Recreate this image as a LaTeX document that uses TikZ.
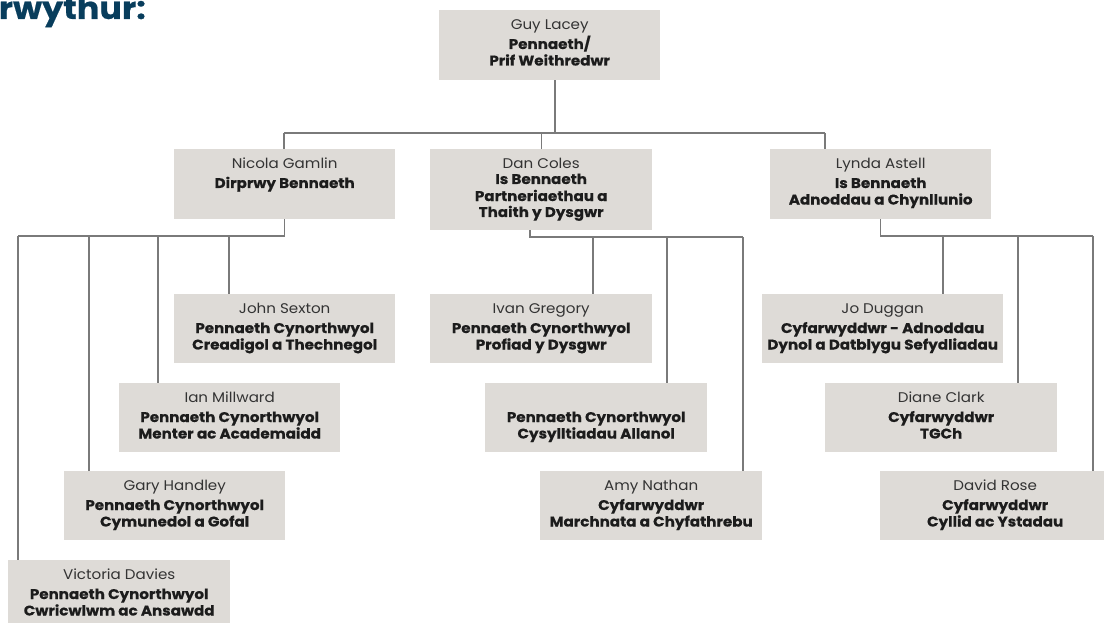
\documentclass[tikz,border=0pt]{standalone}
\usepackage{fontspec}
\setmainfont{Poppins}[FakeStretch=1.08, BoldFeatures={FakeBold=0.5}]
\definecolor{boxfill}{HTML}{DEDBD7}
\definecolor{linegray}{HTML}{7A7A7A}
\definecolor{titleblue}{HTML}{083D5C}
\definecolor{txtdark}{HTML}{1C1C1C}
\definecolor{txtname}{HTML}{333333}
\tikzset{
  obox/.style={rectangle, fill=boxfill, draw=none, inner sep=0pt},
  pname/.style={anchor=base, inner sep=0pt, text=txtname, font=\fontsize{14}{16}\selectfont},
  ptitle/.style={anchor=base, inner sep=0pt, text=txtdark, font=\fontsize{14}{16}\selectfont\bfseries},
  conn/.style={draw=linegray, line width=1.4pt},
}
\newcommand\orgbox[8]{%
  \pgfmathsetmacro\obw{#4-#2}\pgfmathsetmacro\obh{#5-#3}%
  \node[obox, minimum width=\obw pt, minimum height=\obh pt, anchor=north west] (#1) at (#2,#3) {};
  \node[pname] (#1-n) at ([yshift=-19.5pt]#1.north) {#6};
  \node[ptitle] (#1-a) at ([yshift=-39pt]#1.north) {#7};
  \node[ptitle] (#1-b) at ([yshift=-55.5pt]#1.north) {#8};
}
\begin{document}
\begin{tikzpicture}[x=1pt,y=-1pt]
\useasboundingbox (0,0) rectangle (1104,623);
\node[anchor=base east, inner sep=0pt, text=titleblue, font=\fontsize{31}{34}\selectfont\bfseries] (title) at (146,19) {rwythur:};

% boxes
\orgbox{guy}{439}{10}{660}{80}{Guy Lacey}{Pennaeth/}{Prif Weithredwr}
\orgbox{nicola}{174}{149}{395}{219}{Nicola Gamlin}{Dirprwy Bennaeth}{}
\node[obox, minimum width=222pt, minimum height=81pt, anchor=north west] (dan) at (430,149) {};
\node[pname] (dan-n) at ([yshift=-19.5pt]dan.north) {Dan Coles};
\node[ptitle] (dan-a) at ([yshift=-35pt]dan.north) {Is Bennaeth};
\node[ptitle] (dan-b) at ([yshift=-52pt]dan.north) {Partneriaethau a};
\node[ptitle] (dan-c) at ([yshift=-68pt]dan.north) {Thaith y Dysgwr};
\orgbox{lynda}{770}{149}{991}{219}{Lynda Astell}{Is Bennaeth}{Adnoddau a Chynllunio}

\orgbox{john}{174}{294}{395}{363}{John Sexton}{Pennaeth Cynorthwyol}{Creadigol a Thechnegol}
\orgbox{ian}{119}{383}{340}{452}{Ian Millward}{Pennaeth Cynorthwyol}{Menter ac Academaidd}
\orgbox{gary}{64}{471}{285}{540}{Gary Handley}{Pennaeth Cynorthwyol}{Cymunedol a Gofal}
\orgbox{victoria}{8}{560}{230}{630}{Victoria Davies}{Pennaeth Cynorthwyol}{Cwricwlwm ac Ansawdd}

\orgbox{ivan}{430}{294}{652}{363}{Ivan Gregory}{Pennaeth Cynorthwyol}{Profiad y Dysgwr}
\orgbox{cyss}{485}{383}{707}{452}{}{Pennaeth Cynorthwyol}{Cysylltiadau Allanol}
\orgbox{amy}{540}{471}{762}{540}{Amy Nathan}{Cyfarwyddwr}{Marchnata a Chyfathrebu}

\orgbox{jo}{762}{294}{1003}{363}{Jo Duggan}{Cyfarwyddwr - Adnoddau}{Dynol a Datblygu Sefydliadau}
\orgbox{diane}{825}{383}{1057}{452}{Diane Clark}{Cyfarwyddwr}{TGCh}
\orgbox{david}{880}{471}{1110}{540}{David Rose}{Cyfarwyddwr}{Cyllid ac Ystadau}

% top bus
\coordinate (guyx) at (555,0);
\coordinate (busL) at (284,133);
\coordinate (busR) at (825,133);
\draw[conn] (guy.south -| guyx) -- (guyx |- busL);
\draw[conn] (busL) -- (busR);
\draw[conn] (busL) -- (busL |- nicola.north);
\draw[conn] (dan.north |- busL) -- (dan.north);
\draw[conn] (busR) -- (busR |- lynda.north);

% left branch
\coordinate (l1) at (18,236);
\coordinate (l2) at (89,236);
\coordinate (l3) at (158,236);
\coordinate (l4) at (229,236);
\draw[conn] (nicola.south) |- (l1);
\draw[conn] (l1) -- (l1 |- victoria.north);
\draw[conn] (l2) -- (l2 |- gary.north);
\draw[conn] (l3) -- (l3 |- ian.north);
\draw[conn] (l4) -- (l4 |- john.north);

% middle branch
\coordinate (m0) at (530,237);
\coordinate (m1) at (593,237);
\coordinate (m2) at (667,237);
\coordinate (m3) at (743,237);
\draw[conn] (m0 |- dan.south) -- (m0) -- (m3);
\draw[conn] (m1) -- (m1 |- ivan.north);
\draw[conn] (m2) -- (m2 |- cyss.north);
\draw[conn] (m3) -- (m3 |- amy.north);

% right branch
\coordinate (r1) at (943,236);
\coordinate (r2) at (1018,236);
\coordinate (r3) at (1093,236);
\draw[conn] (lynda.south) |- (r3);
\draw[conn] (r1) -- (r1 |- jo.north);
\draw[conn] (r2) -- (r2 |- diane.north);
\draw[conn] (r3) -- (r3 |- david.north);
\end{tikzpicture}
\end{document}
